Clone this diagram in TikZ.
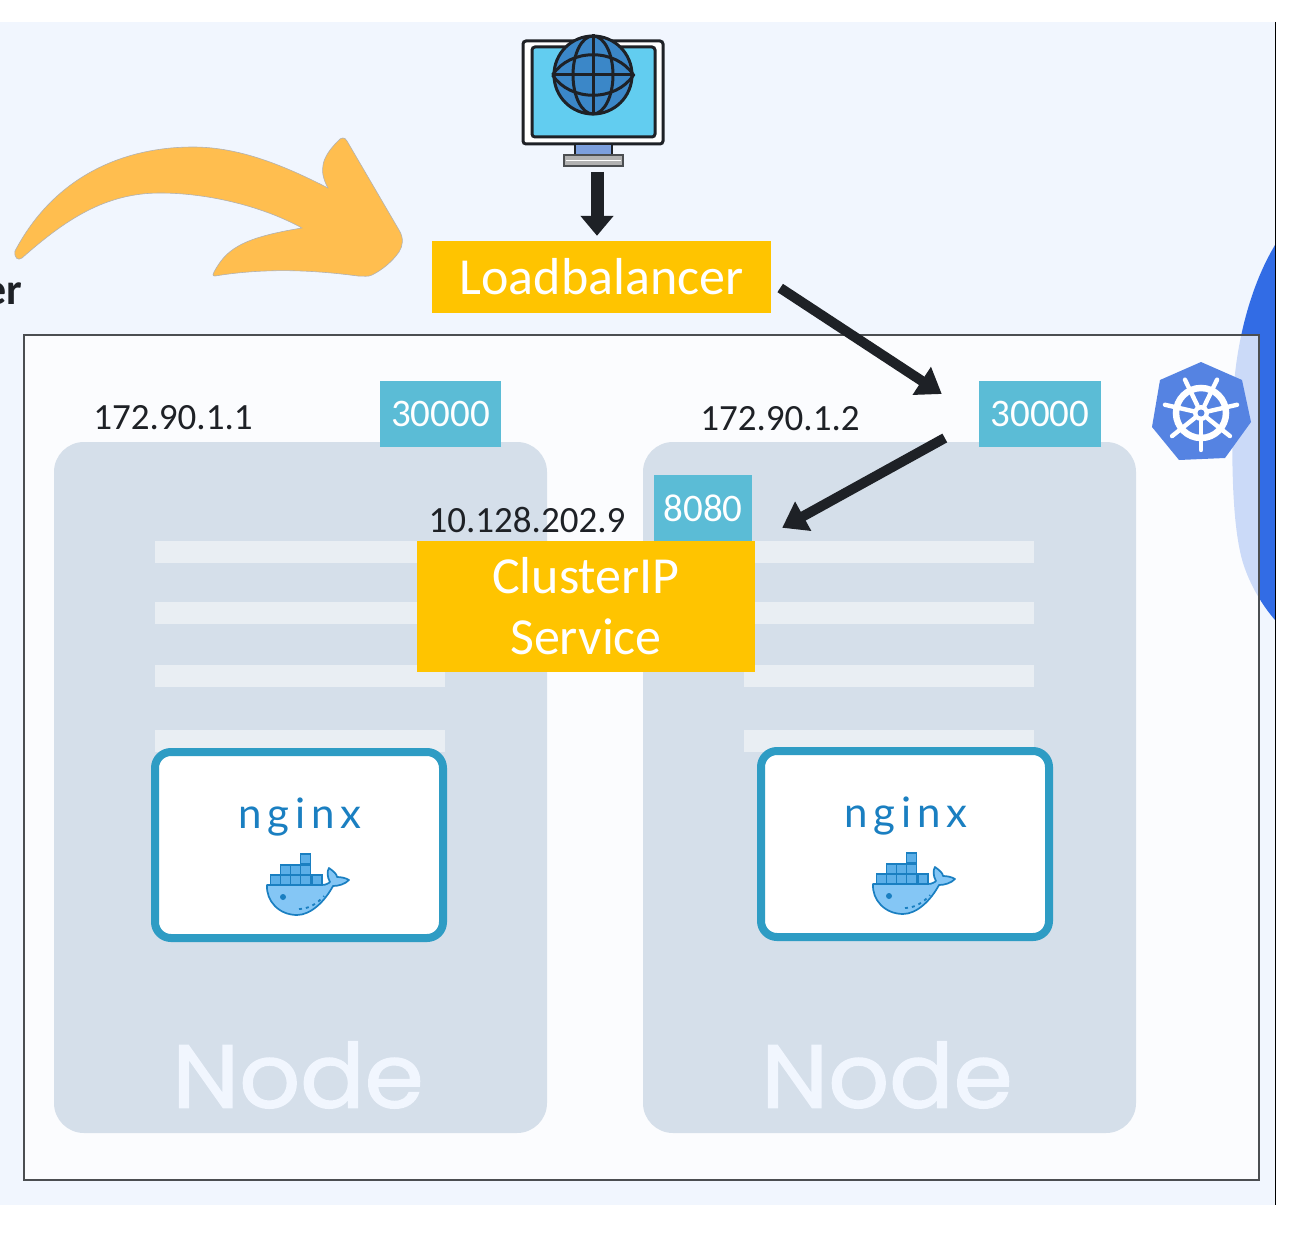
\documentclass[tikz,border=0pt]{standalone}
\usepackage{fontspec}
\setmainfont{Carlito}
\newfontfamily\nodefont[FakeStretch=1.07,FakeBold=1.6]{Poppins}
\newfontfamily\nginxfont[LetterSpace=14]{Lato}
\usetikzlibrary{arrows.meta}
\definecolor{panelbg}{HTML}{F1F6FE}
\definecolor{nodebg}{HTML}{D5DFEA}
\definecolor{stripebg}{HTML}{E9EEF3}
\definecolor{gold}{HTML}{FFC400}
\definecolor{arrowfill}{HTML}{FFBE4F}
\definecolor{porttl}{HTML}{5BBCD6}
\definecolor{inkdark}{HTML}{1E2126}
\definecolor{boxblue}{HTML}{2E9CC4}
\definecolor{whaleblue}{HTML}{1A7FC1}
\definecolor{whalehull}{HTML}{84C6F5}
\definecolor{whalebox}{HTML}{5CAFE8}
\definecolor{kubeblue}{HTML}{5583E2}
\definecolor{sideblue}{HTML}{326CE5}
\definecolor{screenblue}{HTML}{62CDF0}
\definecolor{globeblue}{HTML}{3B87C8}
\definecolor{standblue}{HTML}{7C9FDD}
\tikzset{
  whale/.pic={
    \fill[whalehull,draw=whaleblue,line width=1.7pt,line join=round]
      (0,0) -- (55,0) .. controls (59,0) and (62,-2) .. (63,-3)
      .. controls (60,-8) and (60,-14) .. (62,-17)
      .. controls (66,-14) and (70,-11) .. (70,-8)
      .. controls (74,-8) and (79,-7) .. (82,-5)
      .. controls (78,-1) and (72,1) .. (66,1)
      .. controls (58,16) and (44,30) .. (30,30)
      .. controls (12,30) and (-1,16) .. (0,0) -- cycle;
    \foreach \bx/\by in {3.5/-10,13.5/-10,23.5/-10,33.5/-10,45/-10,13.5/-20,23.5/-20,33.5/-20,33.5/-31}
      \draw[whaleblue,fill=whalebox,line width=1.6pt] (\bx,\by) rectangle ++(10,10);
    \fill[whaleblue] (16,12) circle (3);
    \draw[whaleblue,line width=1.8pt,dash pattern=on 3pt off 4pt]
      (32,24) .. controls (41,24) and (50,19) .. (57,11);
  },
  kubewheel/.pic={
    \fill[kubeblue] (0,-51) -- (41,-33) -- (50,9) -- (24,45) -- (-22,47) -- (-49,14) -- (-41,-33) -- cycle;
    \draw[white,line width=6.5pt] (0,0) circle (25);
    \foreach \ang in {0,1,...,6}
      \draw[white,line width=4.4pt,line cap=round] (90+\ang*51.43:8) -- (90+\ang*51.43:37);
    \fill[white] (0,0) circle (8);
    \fill[kubeblue] (0,0) circle (3.5);
  },
  portbox/.style={fill=porttl,text=white,inner sep=0,font=\fontsize{39}{40}\selectfont},
  goldbox/.style={fill=gold,text=white,inner sep=0,align=center,font=\fontsize{52}{61}\selectfont},
  ipaddr/.style={text=inkdark,inner sep=0,font=\fontsize{37}{40}\selectfont},
  nodebox/.style={fill=nodebg,rounded corners=30pt,minimum width=493pt,minimum height=691pt,inner sep=0},
  stripe/.style={fill=stripebg,minimum width=290pt,minimum height=22pt,inner sep=0},
  podbox/.style={draw=boxblue,fill=white,line width=8pt,rounded corners=16pt,minimum width=288pt,minimum height=186pt,inner sep=0},
  nginxlabel/.style={text=whaleblue,inner sep=0,font=\nginxfont\fontsize{42}{44}\selectfont},
  nodelabel/.style={text=panelbg,inner sep=0,font=\nodefont\fontsize{89}{90}\selectfont},
  bigarrow/.style={-{Triangle[length=24pt,width=32pt]},inkdark,line width=10pt},
}
\begin{document}
\begin{tikzpicture}[x=1pt,y=-1pt]
  \useasboundingbox (0,0) rectangle (1304,1236);
  \fill[white] (0,0) rectangle (1304,1236);
  \fill[panelbg] (0,22) rectangle (1275,1205);
  \fill[sideblue] (1275,245) .. controls (1248,290) and (1235,350) .. (1233,400)
    .. controls (1231,470) and (1233,530) .. (1243,563)
    .. controls (1250,585) and (1262,605) .. (1275,620) -- cycle;
  \draw[black,line width=0.9pt] (1275,22) -- (1275,1205);
  % cluster frame over the blue side
  \fill[white,fill opacity=0.75] (24,335) rectangle (1259,1180);
  \draw[inkdark!80,line width=1.5pt] (24,335) rectangle (1259,1180);

  % curved arrow
  \fill[arrowfill,draw=gray!60,line width=0.6pt] (15,251)
    .. controls (55,175) and (125,147) .. (193,147)
    .. controls (240,147) and (285,166) .. (328,188)
    .. controls (318,170) and (322,157) .. (338,141)
    .. controls (341,137) and (345,137) .. (347,141) -- (399,230)
    .. controls (404,238) and (403,246) .. (399,252)
    .. controls (392,262) and (382,270) .. (372,275)
    .. controls (368,277) and (364,276) .. (358,276)
    .. controls (320,271) and (270,267) .. (215,276)
    .. controls (212,276) and (213,274) .. (214,272)
    .. controls (226,250) and (240,238) .. (302,228)
    .. controls (260,205) and (205,193) .. (160,193)
    .. controls (105,193) and (65,220) .. (22,258)
    .. controls (18,261) and (14,258) .. (15,251) -- cycle;
  \node[text=inkdark,anchor=east,inner sep=0,font=\bfseries\fontsize{44}{46}\selectfont] (cutoff) at (22,294) {er};

  % monitor
  \draw[inkdark,fill=white,line width=3pt,rounded corners=3pt] (523,41) rectangle (663,144);
  \draw[inkdark,fill=screenblue,line width=3pt,rounded corners=3pt] (532,47) rectangle (655,137);
  \draw[inkdark,fill=standblue,line width=1.5pt] (575,144) rectangle (612,155);
  \draw[inkdark!80,fill=gray!60,line width=2.5pt] (564,155) rectangle (623,166);
  \draw[white,line width=1.5pt] (566,160.5) -- (621,160.5);
  \node[circle,draw=inkdark,fill=globeblue,line width=3pt,minimum size=78pt,inner sep=0] (globe) at (593,75) {};
  \draw[inkdark,line width=3pt] (593,75) ellipse (20 and 39);
  \draw[inkdark,line width=3pt] (globe.north) -- (globe.south);
  \draw[inkdark,line width=3pt] (globe.west) -- (globe.east);
  \draw[inkdark,line width=3pt] (globe.west) .. controls (570,48) and (616,48) .. (globe.east)
    .. controls (616,102) and (570,102) .. (globe.west);
  \coordinate (pcbase) at (593.5,166);

  \node[goldbox,minimum width=339pt,minimum height=72pt] (lb) at (601.5,277) {Loadbalancer};

  \node[nodebox] (nodeA) at (300.5,787.5) {};
  \node[nodebox] (nodeB) at (889.5,787.5) {};
  \foreach \y in {552,613,676,741} {
    \node[stripe] (stripeA\y) at (300,\y) {};
    \node[stripe] (stripeB\y) at (889,\y) {};
  }
  \node[nodelabel] (nodeAtext) at (298,1075) {Node};
  \node[nodelabel] (nodeBtext) at (887,1075) {Node};

  \node[ipaddr] (ipA) at (173,418) {172.90.1.1};
  \node[ipaddr] (ipB) at (780,419) {172.90.1.2};
  \node[portbox,minimum width=121pt,minimum height=66pt] (portA) at (440.5,414) {30000};
  \node[portbox,minimum width=122pt,minimum height=66pt] (portB) at (1040,414) {30000};
  \node[portbox,minimum width=98pt,minimum height=66pt] (portC) at (703,508) {8080};
  \node[ipaddr] (ipC) at (527,520) {10.128.202.9};
  \node[goldbox,minimum width=338pt,minimum height=131pt] (svc) at (586,606.5) {ClusterIP\\Service};

  \node[podbox] (podA) at (299,845) {};
  \node[podbox] (podB) at (905,844) {};
  \node[nginxlabel] (nginxA) at (300,817) {nginx};
  \node[nginxlabel] (nginxB) at (906,816) {nginx};
  \pic at (267,885) {whale};
  \pic at (873,884) {whale};

  \pic at (1201,413) {kubewheel};

  \draw[bigarrow,line width=13pt,-{Triangle[length=20pt,width=32pt]}] ([shift={(3.5,6)}]pcbase) -- ([shift={(-4.5,-5)}]lb.north);
  \draw[bigarrow] ([shift={(9,11)}]lb.east) -- ([shift={(-37,-20)}]portB.west);
  \draw[bigarrow] ([shift={(-34,24)}]portB.west) -- ([shift={(27,-13)}]svc.north east);
\end{tikzpicture}
\end{document}
